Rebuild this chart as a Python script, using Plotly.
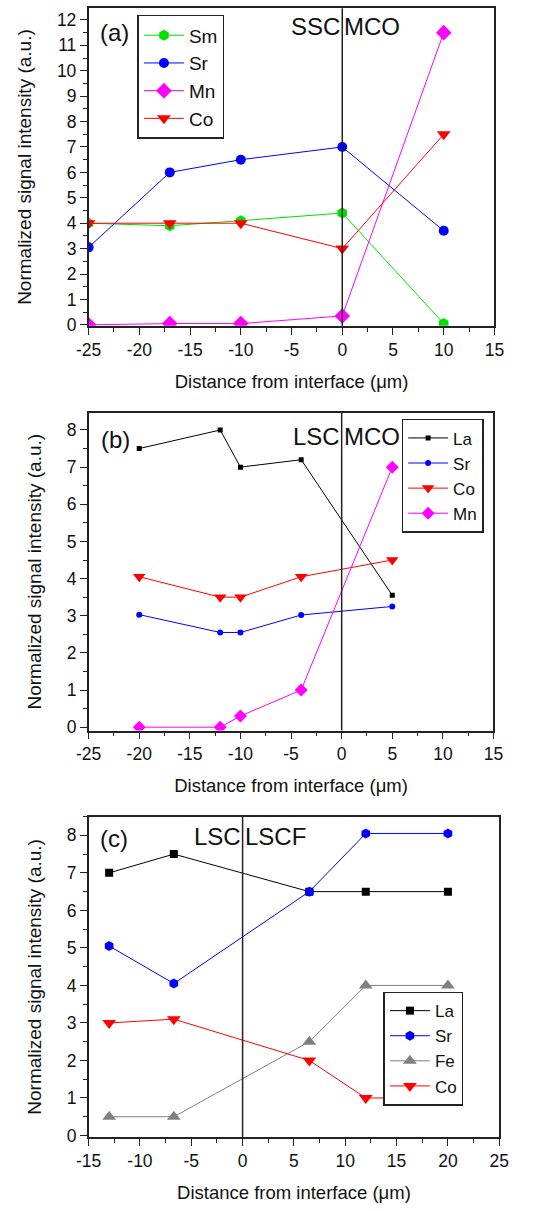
import plotly.graph_objects as go

W, H = 537, 1211

# ---------------- data ----------------
# (a) SSC | MCO
xa = [-25, -17, -10, 0, 10]
a_Sm = [4.0, 3.9, 4.1, 4.4, 0.05]
a_Sr = [3.05, 6.0, 6.5, 7.0, 3.7]
a_Mn = [0.0, 0.05, 0.05, 0.35, 11.5]
a_Co = [4.0, 4.0, 4.0, 3.0, 7.5]

# (b) LSC | MCO
xb = [-20, -12, -10, -4, 5]
b_La = [7.5, 8.0, 7.0, 7.2, 3.55]
b_Sr = [3.03, 2.55, 2.55, 3.02, 3.25]
b_Co = [4.05, 3.5, 3.5, 4.05, 4.5]
b_Mn = [0.0, 0.0, 0.3, 1.0, 7.0]

# (c) LSC | LSCF
xc = [-13, -6.7, 6.5, 12, 20]
c_La = [7.0, 7.5, 6.5, 6.5, 6.5]
c_Sr = [5.05, 4.05, 6.5, 8.05, 8.05]
c_Fe = [0.5, 0.5, 2.5, 4.0, 4.0]
c_Co = [3.0, 3.1, 2.0, 1.0, 1.0]

# tick labels
xticks_ab = [-25, -20, -15, -10, -5, 0, 5, 10, 15]
xticks_c = [-15, -10, -5, 0, 5, 10, 15, 20, 25]

FONT = "Liberation Sans, Arial, sans-serif"

def px_x(p):
    return p / W

def px_y(p):
    return 1 - p / H

fig = go.Figure()

def add(x, y, name, color, symbol, size, xa_, ya_, legend, lw=1):
    fig.add_trace(go.Scatter(
        x=x, y=y, name=name, mode="lines+markers",
        line=dict(color=color, width=lw),
        marker=dict(color=color, symbol=symbol, size=size, line=dict(width=0)),
        xaxis=xa_, yaxis=ya_, legend=legend,
    ))

GREEN = "#00e000"
BLUE = "#0000ff"
MAG = "#ff00ff"
RED = "#ff0000"
BLACK = "#000000"
GRAY = "#808080"

add(xa, a_Sm, "Sm", GREEN, "hexagon", 11, "x", "y", "legend")
add(xa, a_Sr, "Sr", BLUE, "circle", 10, "x", "y", "legend")
add(xa, a_Mn, "Mn", MAG, "diamond", 12, "x", "y", "legend")
add(xa, a_Co, "Co", RED, "triangle-down", 12, "x", "y", "legend")

add(xb, b_La, "La", BLACK, "square", 5, "x2", "y2", "legend2")
add(xb, b_Sr, "Sr", BLUE, "circle", 6, "x2", "y2", "legend2")
add(xb, b_Co, "Co", RED, "triangle-down", 11, "x2", "y2", "legend2")
add(xb, b_Mn, "Mn", MAG, "diamond", 10, "x2", "y2", "legend2")

add(xc, c_La, "La", BLACK, "square", 8, "x3", "y3", "legend3")
add(xc, c_Sr, "Sr", BLUE, "hexagon", 10, "x3", "y3", "legend3")
add(xc, c_Fe, "Fe", GRAY, "triangle-up", 12, "x3", "y3", "legend3")
add(xc, c_Co, "Co", RED, "triangle-down", 12, "x3", "y3", "legend3")

# panel geometry in pixels: (left, right, top, bottom)
panels = {
    "a": (79, 503, 8.3, 328.3, [-25, 15], [-0.04, 12.46], xticks_ab),
    "b": (79, 502, 416, 736, [-25, 15], [-0.09, 8.46], xticks_ab),
    "c": (79, 508, 822.7, 1145.7, [-15, 25], [-0.045, 8.5], xticks_c),
}

axis_common = dict(
    showline=True, linecolor="#222", linewidth=1.5, mirror=True,
    ticks="outside", ticklen=7, tickwidth=1.3, tickcolor="#222",
    showgrid=False, zeroline=False,
    tickfont=dict(family=FONT, size=17.5, color="#111"),
)

layout = {}
for i, key in enumerate(["a", "b", "c"]):
    l, r, t, b, xr, yr, xt = panels[key]
    sx = "" if i == 0 else str(i + 1)
    layout["xaxis" + sx] = dict(
        axis_common, domain=[px_x(l), px_x(r)], range=xr,
        tickmode="array", tickvals=xt, ticktext=[str(v) for v in xt],
        anchor="y" + sx,
        minor=dict(dtick=2.5, ticks="outside", ticklen=4, tickwidth=1.2, tickcolor="#222"),
        title=dict(text="Distance from interface (μm)", standoff=16,
                   font=dict(family=FONT, size=18.5, color="#111")),
    )
    layout["yaxis" + sx] = dict(
        axis_common, domain=[px_y(b), px_y(t)], range=yr, dtick=1,
        anchor="x" + sx,
        minor=dict(dtick=0.5, ticks="outside", ticklen=4, tickwidth=1.2, tickcolor="#222"),
        title=dict(text="Normalized signal intensity (a.u.)", standoff=20,
                   font=dict(family=FONT, size=19, color="#111")),
    )

fig.update_layout(**layout)

# interface lines
for i in range(3):
    sx = "" if i == 0 else str(i + 1)
    fig.add_shape(type="line", xref="x" + sx, yref=("y" + sx + " domain"),
                  x0=0, x1=0, y0=0, y1=1, line=dict(color="#222", width=1.5))

def legend_box(xpx, ypx, size):
    return dict(x=px_x(xpx), y=px_y(ypx), xanchor="left", yanchor="top",
                bgcolor="white", bordercolor="#222", borderwidth=1.5,
                font=dict(family=FONT, size=size, color="#111"),
                itemwidth=40, tracegroupgap=0)

fig.update_layout(
    width=W, height=H, margin=dict(l=0, r=0, t=0, b=0),
    paper_bgcolor="white", plot_bgcolor="white",
    legend=legend_box(130, 15, 19),
    legend2=legend_box(406, 422, 17),
    legend3=legend_box(387, 999, 17),
)

def ann(text, x, y, xref, yref, xanchor="center", size=24):
    fig.add_annotation(text=text, x=x, y=y, xref=xref, yref=yref,
                       xanchor=xanchor, yanchor="middle", showarrow=False,
                       font=dict(family=FONT, size=size, color="#111"))

# panel labels
ann("(a)", px_x(106), px_y(33), "paper", "paper")
ann("(b)", px_x(107), px_y(443), "paper", "paper")
ann("(c)", px_x(105), px_y(845), "paper", "paper")

# phase labels on either side of interface
ann("SSC", 0, px_y(27), "x", "paper", xanchor="right")
ann("MCO", 0, px_y(27), "x", "paper", xanchor="left")
ann("LSC", 0, px_y(440), "x2", "paper", xanchor="right")
ann("MCO", 0, px_y(440), "x2", "paper", xanchor="left")
ann("LSC", 0, px_y(843), "x3", "paper", xanchor="right")
ann("LSCF", 0, px_y(843), "x3", "paper", xanchor="left")

fig.write_html("out.html")
